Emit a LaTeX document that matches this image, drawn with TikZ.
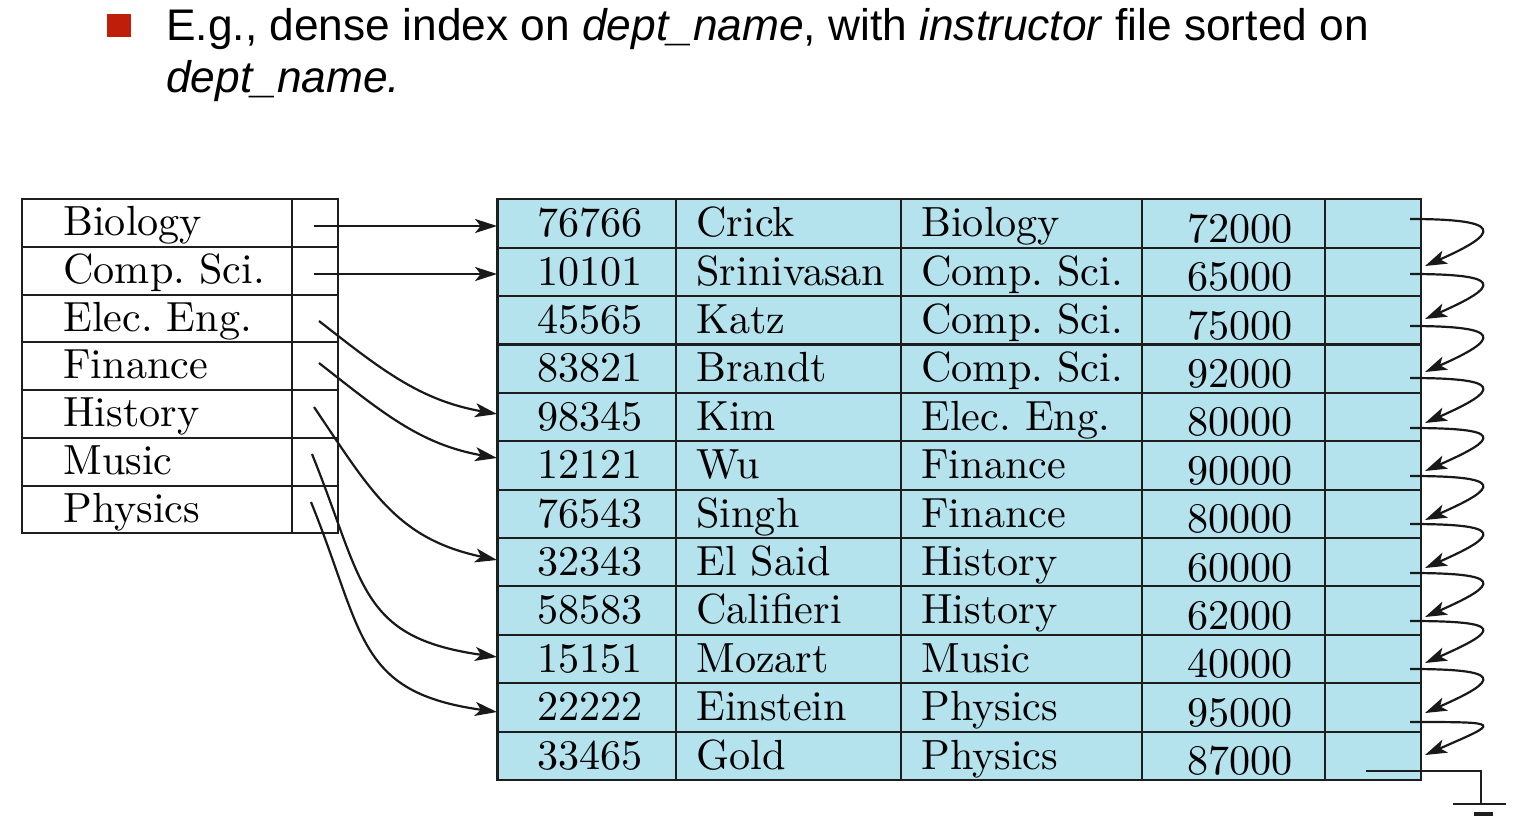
\documentclass[tikz,border=0pt]{standalone}
\usepackage{fontspec}
\newfontfamily\titlefont{Liberation Sans}
\newfontfamily\cellfont{lmroman10-regular.otf}
\usetikzlibrary{arrows.meta}
\definecolor{cellblue}{RGB}{180,226,237}
\definecolor{bulletred}{RGB}{190,30,10}
\definecolor{gridline}{RGB}{30,30,30}
\frenchspacing
\begin{document}
\begin{tikzpicture}[x=0.02cm,y=-0.02cm,
  grid/.style={draw=gridline,line width=1.2pt},
  ptr/.style={line width=1.25pt,draw=black!90,-{Stealth[length=12.5pt,width=8pt,inset=3.2pt]}},
  celltxt/.style={inner sep=0pt,font=\cellfont\fontsize{24}{28}\selectfont},
  titletxt/.style={inner sep=0pt,anchor=base west,font=\titlefont\fontsize{25.2}{29}\selectfont}]
\useasboundingbox (0,0) rectangle (1520,832);

% title
\node[fill=bulletred,minimum size=0.47cm,inner sep=0pt] (bullet) at (119,25.5) {};
\node[titletxt] (line1) at (166,40) {E.g., dense index on \textit{dept\_name}, with \textit{instructor} file sorted on};
\node[titletxt] (line2) at (166,92) {\textit{dept\_name.}};

% index table
\draw[grid] (22,199.3) rectangle (338.3,533.3);
\foreach \k in {1,...,6} \draw[grid] (22,199.3+47.71*\k) -- (338.3,199.3+47.71*\k);
\draw[grid] (291.7,199.3) -- (291.7,533.3);
\foreach \i/\n in {1/Biology,2/Comp. Sci.,3/Elec. Eng.,4/Finance,5/History,6/Music,7/Physics}{
  \pgfmathsetmacro\yt{199.3+47.71*(\i-1)}
  \node[celltxt,anchor=base west] (ix\i) at (63,\yt+36.5) {\n};
}

% main table
\filldraw[grid,fill=cellblue] (497.5,199.3) rectangle (1421,780);
\foreach \k in {1,...,11} \draw[grid] (497.5,199.3+48.39*\k) -- (1421,199.3+48.39*\k);
\foreach \xx in {676,901,1142,1325} \draw[grid] (\xx,199.3) -- (\xx,780);
\foreach \i/\a/\b/\c/\d in {1/76766/Crick/Biology/72000,
  2/10101/Srinivasan/Comp. Sci./65000,
  3/45565/Katz/Comp. Sci./75000,
  4/83821/Brandt/Comp. Sci./92000,
  5/98345/Kim/Elec. Eng./80000,
  6/12121/Wu/Finance/90000,
  7/76543/Singh/Finance/80000,
  8/32343/El Said/History/60000,
  9/58583/Califieri/History/62000,
  10/15151/Mozart/Music/40000,
  11/22222/Einstein/Physics/95000,
  12/33465/Gold/Physics/87000}{
  \pgfmathsetmacro\yt{199.3+48.39*(\i-1)}
  \node[celltxt,anchor=base] (m\i id) at (590,\yt+37.5) {\a};
  \node[celltxt,anchor=base west] (m\i nm) at (696,\yt+37.5) {\b};
  \node[celltxt,anchor=base west] (m\i dp) at (921,\yt+37.5) {\c};
  \node[celltxt,anchor=base] (m\i sal) at (1240,\yt+43) {\d};
}

% index pointers
\coordinate (p1) at (314,226); \coordinate (t1) at (497,226);
\coordinate (p2) at (314,274); \coordinate (t2) at (497,274);
\coordinate (p3) at (319,321); \coordinate (t3) at (497,414);
\coordinate (p4) at (319,363); \coordinate (t4) at (497,458);
\coordinate (p5) at (314,407); \coordinate (t5) at (497,560);
\coordinate (p6) at (312,454); \coordinate (t6) at (497,657);
\coordinate (p7) at (311,502); \coordinate (t7) at (497,712);
\draw[ptr] (p1) -- (t1);
\draw[ptr] (p2) -- (t2);
\draw[ptr] (p3) to[out=-38,in=170] (t3);
\draw[ptr] (p4) to[out=-38,in=170] (t4);
\draw[ptr] (p5) to[out=-56,in=168,looseness=1.1] (t5);
\draw[ptr] (p6) to[out=-68,in=172,looseness=1.3] (t6);
\draw[ptr] (p7) to[out=-68,in=172,looseness=1.3] (t7);

% record chain
\foreach \s/\t [count=\k] in {219/266,274/319,326/372,378/423,428/471,476/520,524/568,573/617,621/663,669/713,722/755}{
  \coordinate (cs\k) at (1410,\s);
  \coordinate (ct\k) at (1425,\t);
  \draw[ptr] (cs\k) .. controls +(95,0) and +(75,-33) .. (ct\k);
}

% null pointer / ground
\coordinate (g0) at (1366,771);
\coordinate (g1) at (1481,804);
\coordinate (gl) at (1453,804);
\coordinate (gr) at (1506,804);
\coordinate (hl) at (1474,814);
\coordinate (hr) at (1493,814);
\draw[grid] (g0) -| (g1);
\draw[grid] (gl) -- (gr);
\draw[gridline,line width=1.8pt] (hl) -- (hr);
\end{tikzpicture}
\end{document}
